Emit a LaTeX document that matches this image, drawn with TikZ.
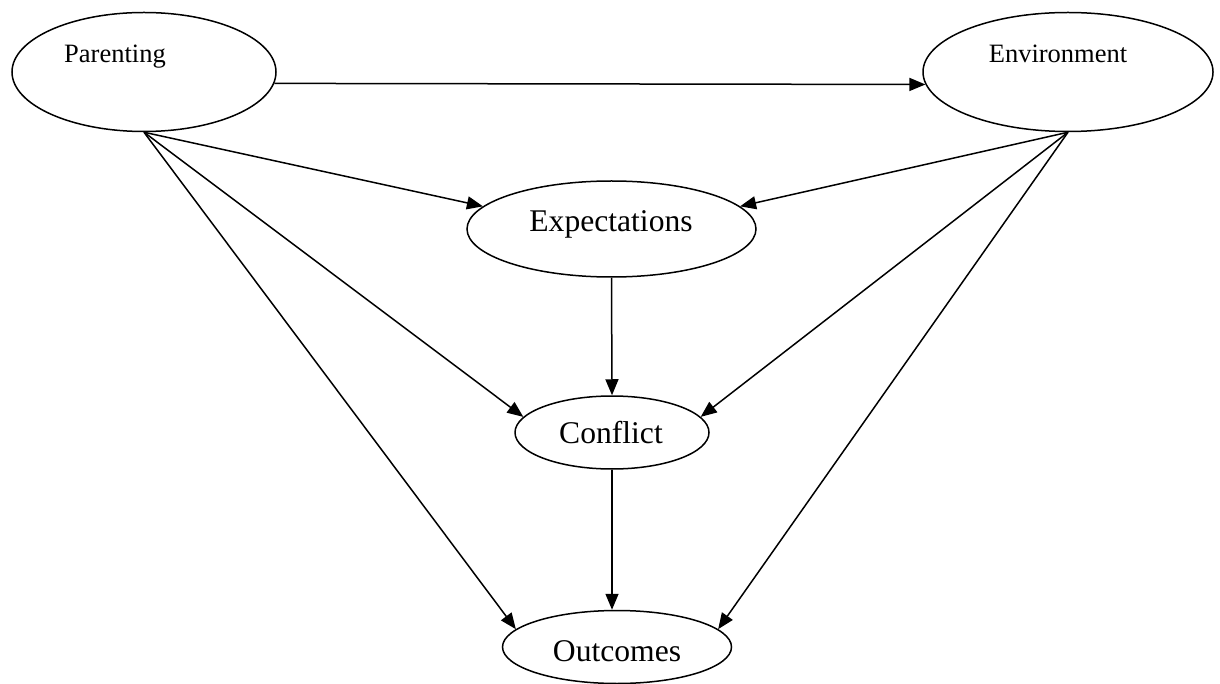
\documentclass[tikz,border=0pt]{standalone}
\usepackage{fontspec}
\setmainfont{Liberation Serif}
\usetikzlibrary{shapes.geometric,arrows.meta}
\begin{document}
\begin{tikzpicture}[x=1pt,y=-1pt,
  oval/.style={draw,ellipse,line width=1.5pt,inner sep=0pt},
  small/.style={font=\fontsize{26.5}{30}\selectfont,anchor=base,inner sep=0pt},
  big/.style={font=\fontsize{31.6}{36}\selectfont,anchor=base,inner sep=0pt},
  arr/.style={line width=1.5pt,-{Triangle[length=16pt,width=13pt]}}]
\useasboundingbox (0,0) rectangle (1220,684);
\node[oval,minimum width=264pt,minimum height=119pt] (P) at (144,72) {};
\node[oval,minimum width=290pt,minimum height=119pt] (E) at (1068,72) {};
\node[oval,minimum width=289pt,minimum height=96pt] (X) at (611.5,229) {};
\node[oval,minimum width=194pt,minimum height=73pt] (C) at (612,432.5) {};
\node[oval,minimum width=229pt,minimum height=73pt] (O) at (617,647) {};
\node[small] (Pt) at (115,63) {Parenting};
\node[small] (Et) at (1058,63) {Environment};
\node[big] (Xt) at (611,232) {Expectations};
\node[big] (Ct) at (611,443) {Conflict};
\node[big] (Ot) at (617,661) {Outcomes};
\draw[arr] (P.-5.53) -- (E.185.04);
\draw[arr] (P.south) -- (X.170);
\draw[arr] (E.south) -- (X.10);
\draw[arr] (P.south) -- (C.170);
\draw[arr] (E.south) -- (C.10);
\draw[arr] (P.south) -- (O.170);
\draw[arr] (E.south) -- (O.10);
\draw[arr] (X.south) -- (C.north);
\draw[arr] (C.south) -- (C.south |- O.north);
\end{tikzpicture}
\end{document}
